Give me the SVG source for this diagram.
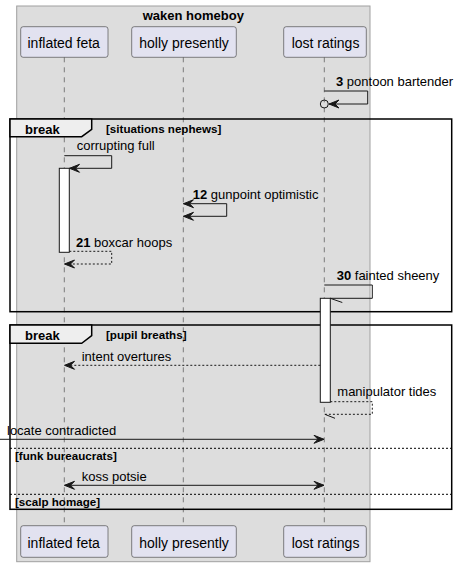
<svg xmlns="http://www.w3.org/2000/svg" width="456" height="567" viewBox="0 0 456 567">
<style>
text{font-family:"Liberation Sans",Arial,sans-serif;fill:#000}
.pname{font-size:14px}
.msg{font-size:13px}
.b{font-weight:bold}
.cond{font-size:11.6px;font-weight:bold}
.part{fill:#E2E2F0;stroke:#181818;stroke-width:0.5}
.life{stroke:#181818;stroke-width:0.5;stroke-dasharray:5,5;fill:none}
.ln{stroke:#181818;stroke-width:1;fill:none}
.dash{stroke:#181818;stroke-width:1;fill:none;stroke-dasharray:2,2}
.ah{fill:#181818;stroke:#181818;stroke-width:1}
.act{fill:#FFFFFF;stroke:#181818;stroke-width:1}
.frame{fill:none;stroke:#000;stroke-width:1.5}
.tab{fill:#EEEEEE;stroke:#000;stroke-width:1.5}
.sep{stroke:#000;stroke-width:1;stroke-dasharray:2,2;fill:none}
</style>
<rect width="456" height="567" fill="#FFFFFF"/>
<g id="box">
<rect x="16.7" y="6" width="353.3" height="555.7" fill="#DDDDDD" stroke="#A0A0A0" stroke-width="1"/>
<text x="193.3" y="19.5" text-anchor="middle" class="msg b">waken homeboy</text>
</g>
<g id="lifelines">
<line class="life" x1="64.3" y1="57.3" x2="64.3" y2="525.7"/>
<line class="life" x1="183.3" y1="57.3" x2="183.3" y2="525.7"/>
<line class="life" x1="324.3" y1="57.3" x2="324.3" y2="525.7"/>
</g>
<g id="p-inflated-feta">
<rect class="part" x="20.7" y="26.7" width="87.3" height="30.6" rx="2.5"/>
<text class="pname" x="27.5" y="47.8">inflated feta</text>
<rect class="part" x="20.7" y="525.7" width="87.3" height="31.6" rx="2.5"/>
<text class="pname" x="27.5" y="547.5">inflated feta</text>
</g>
<g id="p-holly-presently">
<rect class="part" x="131.7" y="26.7" width="104.6" height="30.6" rx="2.5"/>
<text class="pname" x="139.3" y="47.8">holly presently</text>
<rect class="part" x="131.7" y="525.7" width="104.6" height="31.6" rx="2.5"/>
<text class="pname" x="139.3" y="547.5">holly presently</text>
</g>
<g id="p-lost-ratings">
<rect class="part" x="283.7" y="26.7" width="82.6" height="30.6" rx="2.5"/>
<text class="pname" x="291.7" y="47.8">lost ratings</text>
<rect class="part" x="283.7" y="525.7" width="82.6" height="31.6" rx="2.5"/>
<text class="pname" x="291.7" y="547.5">lost ratings</text>
</g>
<g id="frame-break-1">
<rect class="frame" x="10" y="119" width="441.7" height="192.7"/>
<path class="tab" d="M10,119 H91.7 V129.3 L81.7,136.7 H10 Z"/>
<text class="msg b" x="25" y="133.5">break</text>
<text class="cond" x="106" y="132.5">[situations nephews]</text>
</g>
<g id="frame-break-2">
<rect class="frame" x="10" y="325" width="441.7" height="184.3"/>
<path class="tab" d="M10,325 H91.7 V335.6 L81.7,343.3 H10 Z"/>
<text class="msg b" x="25" y="339.5">break</text>
<text class="cond" x="106" y="338.5">[pupil breaths]</text>
<line class="sep" x1="10" y1="448.3" x2="451.7" y2="448.3"/>
<text class="cond" x="15" y="459.5">[funk bureaucrats]</text>
<line class="sep" x1="10" y1="494.3" x2="451.7" y2="494.3"/>
<text class="cond" x="15" y="505.5">[scalp homage]</text>
</g>
<g id="activations">
<rect class="act" x="59.3" y="168.3" width="10" height="84"/>
<rect class="act" x="320.3" y="298.3" width="10" height="104"/>
</g>
<g id="connectors">
<path class="ln" d="M324.3,91 H367.7 V104 H329"/>
<circle cx="324.3" cy="104" r="4" fill="none" stroke="#181818" stroke-width="1"/>
<polygon class="ah" points="329,104 339,100 335,104 339,108"/>
<text class="msg" x="336" y="85.5"><tspan class="b">3</tspan> pontoon bartender</text>
<path class="ln" d="M64.3,155.7 H111.7 V168.3 H69.5"/>
<polygon class="ah" points="69.5,168.3 79.5,164.3 75.5,168.3 79.5,172.3"/>
<text class="msg" x="76.7" y="150">corrupting full</text>
<path class="ln" d="M183.3,203.7 H226.7 V216.3 H183.3"/>
<polygon class="ah" points="183.5,203.7 193.5,199.7 189.5,203.7 193.5,207.7"/>
<polygon class="ah" points="183.5,216.3 193.5,212.3 189.5,216.3 193.5,220.3"/>
<text class="msg" x="192.7" y="198.5"><tspan class="b">12</tspan> gunpoint optimistic</text>
<path class="dash" d="M69.3,251.3 H111.7 V264 H64.5"/>
<polygon class="ah" points="64.5,264 74.5,260 70.5,264 74.5,268"/>
<text class="msg" x="76" y="247"><tspan class="b">21</tspan> boxcar hoops</text>
<path class="ln" d="M324.3,285 H372.3 V298.3 H330.3"/>
<line class="ln" x1="330.3" y1="298.3" x2="342.3" y2="302.5"/>
<text class="msg" x="336.7" y="280"><tspan class="b">30</tspan> fainted sheeny</text>
<line class="dash" x1="320.3" y1="365.3" x2="64.5" y2="365.3"/>
<polygon class="ah" points="64.5,365.3 74.5,361.3 70.5,365.3 74.5,369.3"/>
<text class="msg" x="81.7" y="361">intent overtures</text>
<path class="dash" d="M330.3,401.7 H372.3 V414.3 H324.3"/>
<line class="ln" x1="324.8" y1="414.3" x2="335" y2="418.3"/>
<text class="msg" x="337.3" y="396">manipulator tides</text>
<line class="ln" x1="0" y1="439.3" x2="324" y2="439.3"/>
<polygon class="ah" points="324,439.3 314,435.3 318,439.3 314,443.3"/>
<text class="msg" x="7" y="434.5">locate contradicted</text>
<line class="ln" x1="64.5" y1="485.3" x2="324" y2="485.3"/>
<polygon class="ah" points="64.5,485.3 74.5,481.3 70.5,485.3 74.5,489.3"/>
<polygon class="ah" points="324,485.3 314,481.3 318,485.3 314,489.3"/>
<text class="msg" x="81.7" y="480.5">koss potsie</text>
</g>
</svg>
